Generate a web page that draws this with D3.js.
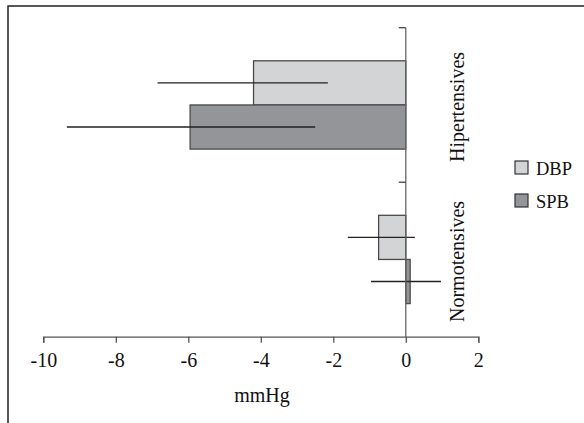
<!DOCTYPE html>
<html>
<head>
<meta charset="utf-8">
<script src="https://cdn.jsdelivr.net/npm/d3@7"></script>
<style>
  html, body { margin: 0; padding: 0; background: #fff; }
  svg { display: block; }
  text { font-family: "Liberation Serif", "Times New Roman", serif; fill: #111; }
</style>
</head>
<body>
<svg id="chart" width="584" height="423"></svg>
<script>
// Change in blood pressure (mmHg) by group
const categories = ["Hipertensives", "Normotensives"];
const series = ["DBP", "SPB"];
const dbpMean = [-4.2, -0.75];
const spbMean = [-5.95, 0.12];
const dbpLow = [-6.85, -1.6];
const dbpHigh = [-2.15, 0.25];
const spbLow = [-9.35, -0.96];
const spbHigh = [-2.5, 0.97];
const xTicks = [-10, -8, -6, -4, -2, 0, 2];
const xLabel = "mmHg";

const rows = [];
categories.forEach((c, i) => {
  rows.push({ cat: c, s: "DBP", v: dbpMean[i], lo: dbpLow[i], hi: dbpHigh[i] });
  rows.push({ cat: c, s: "SPB", v: spbMean[i], lo: spbLow[i], hi: spbHigh[i] });
});

const fills = { DBP: "#d3d4d6", SPB: "#949598" };
const fontSize = 19.5;

const svg = d3.select("#chart");

// outer frame (only top and left edges fall inside the view)
svg.append("rect")
  .attr("x", 8).attr("y", 6)
  .attr("width", 600).attr("height", 440)
  .attr("fill", "none").attr("stroke", "#222").attr("stroke-width", 1.5);

const x = d3.scaleLinear().domain([-10, 2]).range([43.3, 478.3]);
const y = d3.scaleBand().domain(categories).range([27.7, 336.7]).paddingInner(0).paddingOuter(0);
const ys = d3.scaleBand().domain(series).range([0, y.bandwidth()]).paddingInner(0).paddingOuter(0.75);

// bars
svg.append("g").selectAll("rect")
  .data(rows)
  .join("rect")
  .attr("x", d => Math.min(x(0), x(d.v)))
  .attr("y", d => y(d.cat) + ys(d.s))
  .attr("width", d => Math.abs(x(d.v) - x(0)))
  .attr("height", ys.bandwidth())
  .attr("fill", d => fills[d.s])
  .attr("stroke", "#4a4a4a")
  .attr("stroke-width", 1.3);

// error bars
svg.append("g").selectAll("line")
  .data(rows)
  .join("line")
  .attr("x1", d => x(d.lo))
  .attr("x2", d => x(d.hi))
  .attr("y1", d => y(d.cat) + ys(d.s) + ys.bandwidth() / 2)
  .attr("y2", d => y(d.cat) + ys(d.s) + ys.bandwidth() / 2)
  .attr("stroke", "#222")
  .attr("stroke-width", 1.3);

// value axis (bottom)
const yBottom = y.range()[1];
const gx = svg.append("g")
  .attr("transform", `translate(0,${yBottom})`)
  .call(d3.axisBottom(x).tickValues(xTicks).tickFormat(d3.format("d")).tickSizeInner(6).tickSizeOuter(6).tickPadding(10));
gx.select(".domain").attr("stroke", "#555").attr("stroke-width", 1.3);
gx.selectAll(".tick line").attr("stroke", "#555").attr("stroke-width", 1.3);
gx.selectAll(".tick text")
  .style("font-family", "'Liberation Serif', serif")
  .style("font-size", "20px")
  .attr("fill", "#111")
  .text(d => d < 0 ? "-" + Math.abs(d) : String(d));

// category axis at zero
const catEdges = categories.map(c => y(c)).concat([yBottom]);
const gy = svg.append("g");
gy.append("line")
  .attr("x1", x(0)).attr("x2", x(0))
  .attr("y1", y.range()[0]).attr("y2", yBottom)
  .attr("stroke", "#666").attr("stroke-width", 1.3);
gy.selectAll("line.tk")
  .data(catEdges.slice(0, -1))
  .join("line")
  .attr("class", "tk")
  .attr("x1", x(0) - 7).attr("x2", x(0))
  .attr("y1", d => d).attr("y2", d => d)
  .attr("stroke", "#444").attr("stroke-width", 1.3);

// category labels, rotated
svg.append("g").selectAll("text")
  .data(categories)
  .join("text")
  .attr("transform", d => `translate(463.5,${y(d) + y.bandwidth() / 2 + 2}) rotate(-90)`)
  .attr("text-anchor", "middle")
  .style("font-size", "20px")
  .text(d => d);

// axis title
svg.append("text")
  .attr("x", 262).attr("y", 402)
  .attr("text-anchor", "middle")
  .style("font-size", "20px")
  .text(xLabel);

// legend
const lg = svg.append("g").selectAll("g")
  .data(series)
  .join("g")
  .attr("transform", (d, i) => `translate(515,${161 + i * 33})`);
lg.append("rect")
  .attr("width", 13).attr("height", 13)
  .attr("fill", d => fills[d])
  .attr("stroke", "#333").attr("stroke-width", 1.2);
lg.append("text")
  .attr("x", 21).attr("y", 13.5)
  .style("font-size", "18.5px")
  .text(d => d);
</script>
</body>
</html>
